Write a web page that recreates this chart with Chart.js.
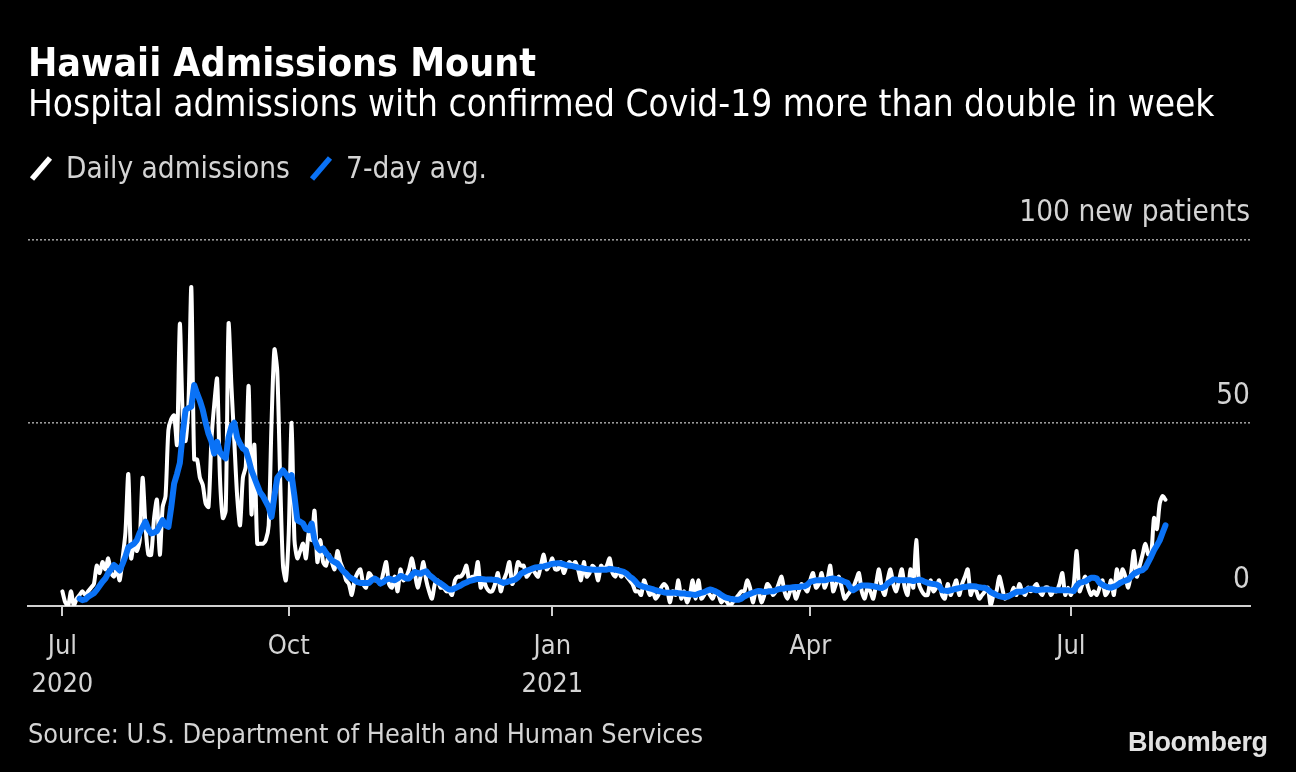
<!DOCTYPE html>
<html>
<head>
<meta charset="utf-8">
<script src="https://cdn.jsdelivr.net/npm/chart.js@4.4.1/dist/chart.umd.min.js"></script>
<style>
  html, body { margin:0; padding:0; background:#000; width:1296px; height:772px; overflow:hidden; }
  #wrap { position:relative; width:1296px; height:772px; background:#000; }
  #c { position:absolute; left:0; top:0; }
  .t { position:absolute; white-space:nowrap; line-height:1; font-family:"DejaVu Sans Condensed","DejaVu Sans",sans-serif; font-stretch:condensed; }
  #title { left:28px; top:43px; font-size:39px; font-weight:bold; color:#fff; }
  #subtitle { left:28px; top:86px; font-size:36.7px; color:#fff; }
  .lg { position:absolute; top:154px; font-size:29.5px; color:#d4d4d4; }
  #source { left:28px; top:721px; font-size:26.8px; color:#d4d4d4; }
  #logo { position:absolute; left:1128px; top:729px; font-family:"Liberation Sans",Arial,sans-serif; font-weight:bold; font-size:27px; letter-spacing:-0.3px; color:#e2e2e2; line-height:1; white-space:nowrap; }
  svg { position:absolute; left:0; top:0; }
</style>
</head>
<body>
<div id="wrap">
  <canvas id="c" width="1296" height="772"></canvas>
  <div class="t" id="title">Hawaii Admissions Mount</div>
  <div class="t" id="subtitle">Hospital admissions with confirmed Covid-19 more than double in week</div>
  <svg width="400" height="200">
    <line x1="32" y1="179" x2="50" y2="158" stroke="#ffffff" stroke-width="5.5"/>
    <line x1="312" y1="179" x2="330" y2="158" stroke="#0a72f6" stroke-width="5.5"/>
  </svg>
  <div class="t lg" style="left:66px;">Daily admissions</div>
  <div class="t lg" style="left:346px;">7-day avg.</div>
  <div class="t" id="source">Source: U.S. Department of Health and Human Services</div>
  <div id="logo">Bloomberg</div>
</div>
<script>
// ---- data (day index = days since 2020-07-01) ----
const dailyStartDay = 13;   // 2020-07-14
const dailyAdmissions = [
  4, 1, 0, 4, 0, 2, 3, 4, 3, 4,
  5, 6, 11, 9, 12, 10, 13, 9, 8, 10,
  7, 13, 20, 36, 13, 17, 15, 18, 35, 22,
  14, 14, 24, 29, 14, 27, 30, 48, 51, 52,
  44, 77, 52, 45, 55, 87, 40, 40, 35, 33,
  28, 27, 45, 55, 62, 35, 24, 26, 77, 60,
  45, 30, 22, 35, 38, 60, 25, 44, 17, 17,
  17, 18, 22, 50, 70, 64, 35, 11, 7, 20,
  50, 18, 13, 15, 17, 13, 20, 18, 26, 12,
  18, 12, 11, 14, 12, 10, 15, 12, 10, 7,
  6, 3, 7, 9, 10, 6, 5, 9, 8, 7,
  7, 6, 9, 12, 6, 5, 8, 4, 10, 7,
  8, 10, 13, 9, 5, 8, 12, 7, 4, 2,
  6, 7, 5, 5, 4, 4, 3, 7, 8, 8,
  9, 11, 7, 8, 8, 12, 5, 7, 5, 4,
  4, 6, 9, 4, 7, 9, 12, 6, 8, 12,
  11, 11, 8, 9, 10, 9, 8, 11, 14, 10,
  11, 13, 10, 10, 12, 9, 11, 12, 11, 12,
  10, 7, 12, 8, 9, 11, 10, 7, 11, 10,
  11, 13, 9, 8, 10, 8, 9, 8, 7, 6,
  4, 4, 3, 7, 5, 3, 4, 2, 3, 5,
  6, 5, 1, 4, 3, 7, 2, 4, 1, 3,
  7, 2, 7, 2, 3, 4, 3, 2, 4, 3,
  1, 2, 1, 0, 1, 2, 3, 4, 4, 7,
  5, 1, 4, 4, 1, 3, 6, 5, 3, 4,
  6, 8, 4, 2, 4, 5, 2, 4, 6, 5,
  4, 7, 9, 5, 6, 9, 5, 7, 11, 4,
  6, 8, 5, 2, 3, 4, 5, 7, 9, 4,
  2, 5, 4, 2, 6, 10, 5, 3, 7, 10,
  6, 4, 7, 10, 5, 3, 10, 5, 18, 6,
  4, 3, 3, 7, 4, 5, 7, 3, 2, 6,
  3, 5, 7, 3, 6, 8, 10, 3, 5, 4,
  2, 3, 4, 5, 0, 3, 4, 8, 5, 2,
  3, 3, 5, 3, 6, 4, 3, 5, 4, 5,
  6, 4, 3, 5, 5, 3, 4, 4, 6, 9,
  3, 5, 3, 6, 15, 4, 6, 8, 5, 3,
  4, 3, 5, 7, 3, 4, 7, 3, 10, 6,
  10, 8, 5, 9, 15, 8, 11, 14, 17, 14,
  14, 24, 21, 28, 30, 29
];
const avgStartDay = 19;     // 2020-07-20
const sevenDayAvg = [
  2, 1.6, 1.8, 2.5, 3, 3.5, 4.4, 5.5, 6.6, 7.5,
  9, 10, 11.2, 10.5, 9.7, 11.5, 13.5, 16, 16.5, 17,
  18, 20, 21.5, 23, 21, 19.8, 20, 20.5, 22, 23.4,
  22, 21.6, 27, 33.4, 36, 39, 47, 53.5, 54, 54.4,
  60.3, 58, 56, 53.5, 50, 47, 45, 41.6, 44.8, 42,
  41, 40.3, 46, 49, 50, 46, 44.3, 43, 42.5, 40,
  37, 35, 33, 31, 30, 28.5, 27, 24.3, 30, 35,
  36, 37, 36, 34.8, 35.7, 30, 23.4, 23, 22.5, 21,
  20.7, 22.5, 18, 16, 15.2, 15.7, 14.5, 13.5, 12.5, 12,
  11.6, 10.5, 9.5, 8.9, 8, 7.5, 7, 6.5, 6.3, 6.3,
  6.3, 6.3, 7, 7.5, 7, 6.1, 6.5, 7.2, 7.5, 7.2,
  7, 7.5, 8.2, 8, 7.5, 7.5, 8.5, 9.3, 9, 8.8,
  9.2, 9.5, 8.5, 7.9, 7.2, 6.6, 6.2, 5.6, 5, 4.5,
  4.5, 4.8, 5.2, 5.6, 6.1, 6.4, 6.8, 7, 7.2, 7.4,
  7.4, 7.3, 7.2, 7.2, 7.2, 7.1, 7, 6.6, 6.3, 6.5,
  6.8, 7, 7.2, 7.8, 8.8, 9.2, 9.6, 9.9, 10.2, 10.5,
  10.6, 10.7, 10.8, 11, 11.3, 11.5, 11.6, 11.7, 11.6, 11.4,
  11.1, 11, 10.9, 10.7, 10.5, 10.4, 10.2, 10.1, 10, 9.9,
  9.9, 9.9, 9.9, 9.9, 9.9, 10.1, 10, 9.9, 9.7, 9.5,
  9.3, 8.8, 8, 7.5, 6.7, 5.8, 5.5, 5.2, 5, 4.8,
  4.6, 4.3, 4.1, 3.9, 3.7, 3.6, 3.6, 3.6, 3.6, 3.5,
  3.4, 3.4, 3.3, 3.2, 3.1, 3, 3.3, 3.6, 3.8, 4.2,
  4.5, 4.3, 4, 3.6, 3, 2.5, 2.2, 2, 1.9, 1.7,
  1.7, 2, 2.6, 3, 3.3, 3.6, 3.9, 4.1, 4, 3.8,
  3.9, 4, 4, 4.3, 4.6, 4.7, 4.8, 5, 5, 5.1,
  5.2, 5.2, 5.3, 5.4, 5.8, 6.6, 6.8, 7, 7, 7,
  7, 7.2, 7.4, 7.5, 7.4, 7.2, 7, 6.6, 6.3, 5,
  4.3, 4.8, 5.3, 5.6, 5.6, 5.6, 5.5, 5.4, 5.2, 5,
  4.9, 5.3, 6.1, 6.6, 7.2, 7.2, 7, 7, 7, 7,
  7, 6.8, 7, 7.2, 7, 6.6, 6.3, 6.1, 6, 5.9,
  5.5, 4.3, 4.2, 4.1, 4.3, 4.5, 4.7, 4.9, 5.1, 5.2,
  5.3, 5.4, 5.4, 5.3, 5.1, 5, 5, 4.5, 3.8, 3.4,
  3, 2.7, 2.5, 2.4, 2.6, 3, 3.4, 3.9, 3.9, 3.9,
  4.2, 4.6, 4.7, 4.5, 4.3, 4.4, 4.5, 4.5, 4.5, 4.5,
  4.4, 4.3, 4.3, 4.3, 4.3, 4.3, 4.2, 4.1, 5.5, 6.3,
  6.5, 6.7, 7.2, 7.7, 7.7, 7.5, 6.3, 5.8, 5.4, 5.1,
  5, 5.3, 5.6, 6.2, 6.6, 6.9, 7.2, 8, 8.8, 9.2,
  9.6, 9.8, 10.5, 12, 13.5, 15.2, 16.5, 17.9, 20, 22
];
const xTickDays = [13, 92, 184, 274, 365];
const xTickLabels = [['Jul', '2020'], ['Oct'], ['Jan', '2021'], ['Apr'], ['Jul']];
const yTickValues = [0, 50, 100];
const yTickLabels = ['0', '50', '100 new patients'];

// ---- build ----
const FONT = '"DejaVu Sans Condensed", "DejaVu Sans", sans-serif';
const dailyPts = dailyAdmissions.map((v, i) => ({ x: dailyStartDay + i, y: v }));
const avgPts = sevenDayAvg.map((v, i) => ({ x: avgStartDay + i, y: v }));

new Chart(document.getElementById('c'), {
  type: 'line',
  data: {
    datasets: [
      { label: '7-day avg.', data: avgPts, borderColor: '#0a72f6', borderWidth: 6,
        pointRadius: 0, tension: 0, borderJoinStyle: 'round', borderCapStyle: 'round', fill: false },
      { label: 'Daily admissions', data: dailyPts, borderColor: '#ffffff', borderWidth: 4,
        pointRadius: 0, tension: 0.25, borderJoinStyle: 'round', borderCapStyle: 'round', fill: false }
    ]
  },
  options: {
    responsive: false,
    animation: false,
    events: [],
    layout: { padding: { left: 28, top: 239.5, right: 0, bottom: 0 } },
    plugins: { legend: { display: false }, tooltip: { enabled: false } },
    scales: {
      x: {
        type: 'linear', min: 1, max: 427.5,
        afterBuildTicks: s => { s.ticks = xTickDays.map(v => ({ value: v })); },
        afterFit: s => { s.height = 166; },
        grid: { display: true, drawOnChartArea: false, drawTicks: true, tickLength: 10, color: '#cfcfcf', lineWidth: 2 },
        border: { display: true, color: '#d0d0d0', width: 2 },
        ticks: {
          color: '#d4d4d4', font: { family: FONT, size: 27, lineHeight: 1.4 }, padding: 12,
          maxRotation: 0, autoSkip: false,
          callback: (v, i) => xTickLabels[i]
        }
      },
      y: {
        position: 'right', min: 0, max: 100,
        afterBuildTicks: s => { s.ticks = yTickValues.map(v => ({ value: v })); },
        afterFit: s => { s.width = 46; },
        grid: { color: c => (c.tick && c.tick.value === 0) ? 'rgba(0,0,0,0)' : '#9a9a9a', lineWidth: 1.6, drawTicks: false },
        border: { display: false, dash: [2, 2] },
        ticks: {
          mirror: true, padding: 0, labelOffset: -26, color: '#d4d4d4',
          font: { family: FONT, size: 29.5 },
          callback: (v, i) => yTickLabels[i]
        }
      }
    }
  }
});
</script>
</body>
</html>
